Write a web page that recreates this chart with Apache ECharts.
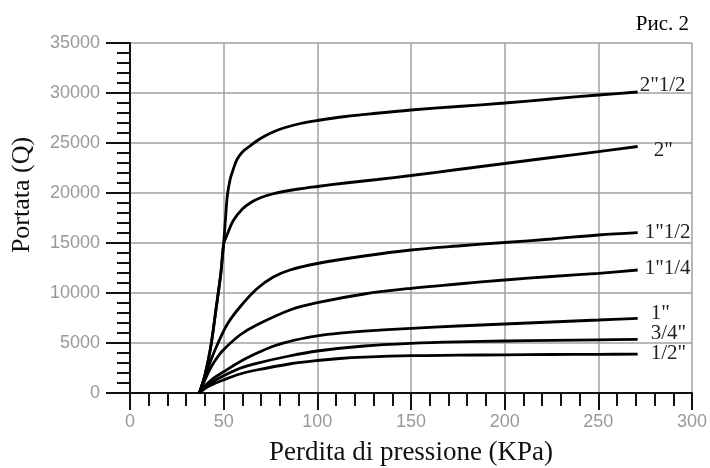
<!DOCTYPE html>
<html>
<head>
<meta charset="utf-8">
<script src="https://cdn.jsdelivr.net/npm/echarts@6/dist/echarts.min.js"></script>
<style>
html,body{margin:0;padding:0;background:#fff;}
#chart{width:710px;height:468px;}
</style>
</head>
<body>
<div id="chart"></div>
<script>
// ---- Data ----
const seriesNames = ['2"1/2', '2"', '1"1/2', '1"1/4', '1"', '3/4"', '1/2"'];

const x_2_12 = [37, 40, 43, 46, 48.5, 50, 51, 52, 53.5, 55, 57, 60, 64, 68, 72, 77, 82, 91, 100, 115, 130, 150, 175, 200, 225, 250, 271];
const y_2_12 = [0, 1800, 4500, 8500, 12000, 15000, 17500, 19800, 21400, 22300, 23300, 24100, 24700, 25250, 25700, 26150, 26500, 26950, 27250, 27650, 27950, 28300, 28650, 29000, 29400, 29800, 30100];

const x_2 = [37, 40, 43, 46, 48.5, 50, 52, 55, 60, 65, 70, 76, 82, 90, 100, 115, 132, 150, 175, 200, 225, 250, 271];
const y_2 = [0, 1800, 4500, 8500, 12000, 14900, 15900, 17200, 18400, 19100, 19550, 19900, 20150, 20400, 20650, 21000, 21350, 21750, 22350, 22950, 23550, 24130, 24650];

const x_1_12 = [37, 40, 43, 47, 52, 58.7, 67.6, 76.5, 85.4, 100, 125, 150, 175, 200, 225, 250, 271];
const y_1_12 = [0, 1600, 3200, 5000, 6900, 8600, 10400, 11600, 12300, 12950, 13700, 14300, 14700, 15050, 15400, 15800, 16030];

const x_1_14 = [37, 40, 43, 46, 49.8, 58.7, 67.6, 85.4, 100, 125, 150, 175, 200, 225, 250, 271];
const y_1_14 = [0, 1300, 2500, 3400, 4300, 5800, 6800, 8300, 9030, 9900, 10470, 10900, 11300, 11650, 11970, 12300];

const x_1 = [37, 40, 44, 49.8, 58.7, 67.6, 76, 85, 92, 100, 112, 125, 150, 175, 200, 225, 250, 271];
const y_1 = [0, 700, 1400, 2100, 3130, 3970, 4650, 5150, 5450, 5720, 5980, 6180, 6470, 6700, 6900, 7100, 7300, 7470];

const x_34 = [37, 40, 44, 49.8, 58.7, 67.6, 85, 100, 125, 150, 175, 200, 225, 250, 271];
const y_34 = [0, 550, 1100, 1700, 2470, 2970, 3700, 4200, 4700, 4970, 5120, 5200, 5260, 5320, 5370];

const x_12 = [37, 40, 44, 49.8, 58.7, 67.6, 85, 100, 112, 125, 150, 175, 200, 225, 250, 271];
const y_12 = [0, 450, 850, 1300, 1900, 2300, 2900, 3250, 3450, 3580, 3730, 3780, 3820, 3850, 3870, 3880];

const xs = [x_2_12, x_2, x_1_12, x_1_14, x_1, x_34, x_12];
const ys = [y_2_12, y_2, y_1_12, y_1_14, y_1, y_34, y_12];

// label offsets (styling only)
const labelOffsets = [[2, -7], [16, 4], [7, 0], [7, -2], [13, -5], [13, -6], [13, -1]];

const serif = "'Liberation Serif', 'DejaVu Serif', serif";
const sans = "'Liberation Sans', Arial, sans-serif";

const series = seriesNames.map((name, i) => ({
  name: name,
  type: 'line',
  data: xs[i].map((x, k) => [x, ys[i][k]]),
  showSymbol: false,
  smooth: 0.35,
  lineStyle: { color: '#000', width: 2.8 },
  z: 5,
  endLabel: {
    show: true,
    formatter: name,
    distance: 0,
    offset: labelOffsets[i],
    color: '#222',
    fontFamily: serif,
    fontSize: 21
  }
}));

const chart = echarts.init(document.getElementById('chart'), null, { renderer: 'canvas' });
chart.setOption({
  animation: false,
  backgroundColor: '#fff',
  title: {
    text: 'Рис. 2',
    right: 16,
    top: 9,
    textStyle: { fontFamily: serif, fontSize: 21, fontWeight: 'normal', color: '#000' }
  },
  grid: { left: 130, right: 18, top: 43, bottom: 75, containLabel: false, outerBoundsMode: 'none' },
  xAxis: {
    type: 'value',
    min: 0, max: 300, interval: 50,
    name: 'Perdita di pressione (KPa)',
    nameLocation: 'middle',
    nameGap: 46,
    nameTextStyle: { fontFamily: serif, fontSize: 27, color: '#111' },
    axisLine: { show: true, onZero: false, lineStyle: { color: '#111', width: 2 } },
    axisTick: { show: true, inside: false, length: 17, lineStyle: { color: '#111', width: 2 } },
    minorTick: { show: true, splitNumber: 5, length: 13, lineStyle: { color: '#111', width: 2 } },
    axisLabel: { margin: 20, fontFamily: sans, fontSize: 18, color: '#999' },
    splitLine: { show: true, lineStyle: { color: '#a0a0a0', width: 1.5 } }
  },
  yAxis: {
    type: 'value',
    min: 0, max: 35000, interval: 5000,
    name: 'Portata (Q)',
    nameLocation: 'middle',
    nameGap: 95,
    nameTextStyle: { fontFamily: serif, fontSize: 26, color: '#111', padding: [0, 0, 0, 46] },
    axisLine: { show: true, lineStyle: { color: '#111', width: 2 } },
    axisTick: { show: true, inside: false, length: 24, lineStyle: { color: '#111', width: 2 } },
    minorTick: { show: true, splitNumber: 5, length: 13, lineStyle: { color: '#111', width: 2 } },
    axisLabel: { margin: 30, fontFamily: sans, fontSize: 18, color: '#999', formatter: v => String(v) },
    splitLine: { show: true, lineStyle: { color: '#a0a0a0', width: 1.5 } }
  },
  series: series
});
</script>
</body>
</html>
